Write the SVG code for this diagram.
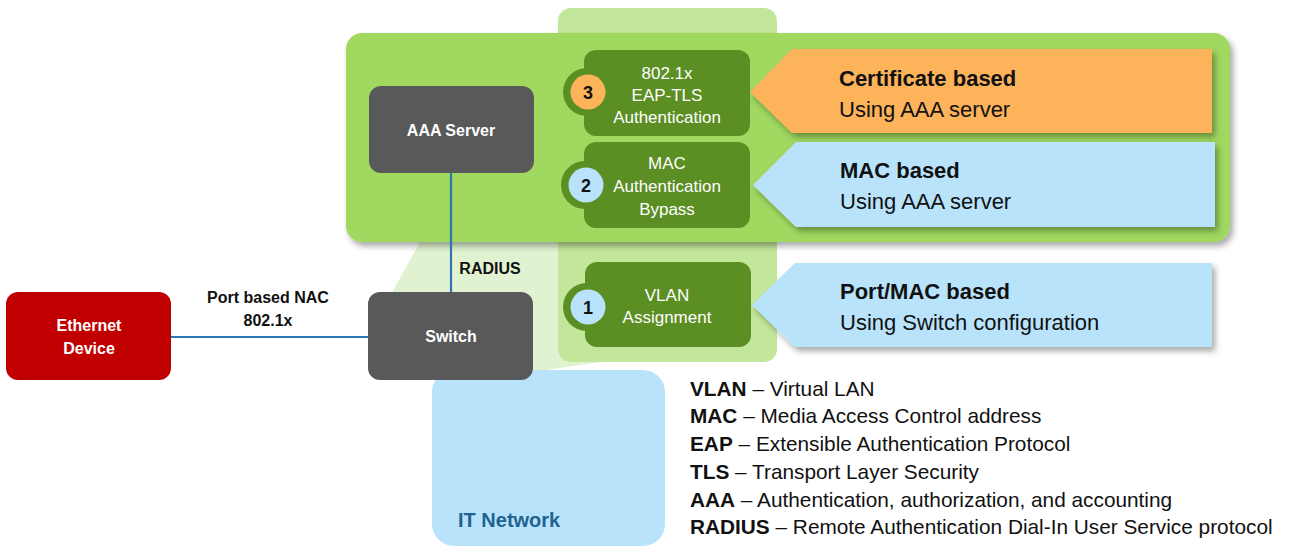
<svg xmlns="http://www.w3.org/2000/svg" width="1289" height="546" viewBox="0 0 1289 546">
<defs>
<filter id="sh" x="-10%" y="-10%" width="125%" height="130%">
<feDropShadow dx="3" dy="4" stdDeviation="3" flood-color="#000" flood-opacity="0.35"/>
</filter>
<style>
text{font-family:"Liberation Sans",Arial,sans-serif}
.dark{fill:#595959}
.dg{fill:#5b8e23}
.wb{fill:#fff;font-weight:bold;font-size:16px;text-anchor:middle}
.wr{fill:#fff;font-size:17px;text-anchor:middle}
.lbl{fill:#111;font-weight:bold;font-size:16px;text-anchor:middle}
.num{fill:#111;font-weight:bold;font-size:18px;text-anchor:middle}
.ct{fill:#111;font-size:22px}
.ctb{fill:#111;font-size:22px;font-weight:bold}
.lg{fill:#111;font-size:20.8px}
.conn{stroke:#2e75b6;stroke-width:2.2;fill:none}
</style>
</defs>
<rect width="1289" height="546" fill="#fff"/>
<g id="backdrop">
<path d="M420,242 L776,242 L776,352 L600,362 L520,374 L445,374 L385,305 Z" fill="#e1f2d0"/>
<rect x="558" y="8" width="219" height="354" rx="13" fill="#c2e69a"/>
<rect x="346" y="33" width="884" height="209" rx="16" fill="#a0d860" filter="url(#sh)"/>
</g>
<g id="it-network">
<rect x="432" y="370" width="233" height="176" rx="22" fill="#b8e3fb"/>
<text x="458" y="527" font-size="20" font-weight="bold" fill="#1f6391">IT Network</text>
</g>
<g id="connectors">
<line class="conn" x1="451" y1="173" x2="451" y2="292"/>
<line class="conn" x1="171" y1="337" x2="368" y2="337"/>
<text class="lbl" x="490" y="274">RADIUS</text>
<text class="lbl" x="268" y="303">Port based NAC</text>
<text class="lbl" x="268" y="326">802.1x</text>
</g>
<g id="aaa-server">
<rect class="dark" x="369" y="86" width="165" height="87" rx="12"/>
<text class="wb" x="451" y="136">AAA Server</text>
</g>
<g id="switch">
<rect class="dark" x="368" y="292" width="165" height="88" rx="12"/>
<text class="wb" x="451" y="342">Switch</text>
</g>
<g id="ethernet-device">
<rect x="6" y="292" width="165" height="88" rx="12" fill="#c00000"/>
<text class="wb" x="89" y="331">Ethernet</text>
<text class="wb" x="89" y="354">Device</text>
</g>
<g id="step3">
<rect class="dg" x="584" y="50" width="166" height="86" rx="12"/>
<circle class="dg" cx="587" cy="92" r="24"/>
<circle cx="588" cy="92" r="17.5" fill="#fdb35a"/>
<text class="num" x="588" y="98.5">3</text>
<text class="wr" x="667" y="79">802.1x</text>
<text class="wr" x="667" y="101">EAP-TLS</text>
<text class="wr" x="667" y="123">Authentication</text>
</g>
<g id="step2">
<rect class="dg" x="584" y="142" width="166" height="86" rx="12"/>
<circle class="dg" cx="585" cy="185" r="24"/>
<circle cx="586" cy="185" r="17.5" fill="#b8e3fb"/>
<text class="num" x="586" y="191.5">2</text>
<text class="wr" x="667" y="169">MAC</text>
<text class="wr" x="667" y="192">Authentication</text>
<text class="wr" x="667" y="215">Bypass</text>
</g>
<g id="step1">
<rect class="dg" x="585" y="262" width="166" height="85" rx="12"/>
<circle class="dg" cx="587" cy="307" r="24"/>
<circle cx="588" cy="307" r="17.5" fill="#b8e3fb"/>
<text class="num" x="588" y="313.5">1</text>
<text class="wr" x="667" y="301">VLAN</text>
<text class="wr" x="667" y="323">Assignment</text>
</g>
<g id="callout-certificate">
<path d="M750,92 L792,49 L1212,49 L1212,133 L792,133 Z" fill="#fdb35a" filter="url(#sh)"/>
<text class="ctb" x="839" y="86">Certificate based</text>
<text class="ct" x="839" y="117">Using AAA server</text>
</g>
<g id="callout-mac">
<path d="M753,185 L796,142 L1215,142 L1215,227 L796,227 Z" fill="#b8e3fb" filter="url(#sh)"/>
<text class="ctb" x="840" y="178">MAC based</text>
<text class="ct" x="840" y="209">Using AAA server</text>
</g>
<g id="callout-port">
<path d="M752,305 L795,263 L1212,263 L1212,347 L795,347 Z" fill="#b8e3fb" filter="url(#sh)"/>
<text class="ctb" x="840" y="299">Port/MAC based</text>
<text class="ct" x="840" y="330">Using Switch configuration</text>
</g>
<g id="legend">
<text class="lg" x="690" y="396"><tspan font-weight="bold">VLAN</tspan> – Virtual LAN</text>
<text class="lg" x="690" y="423"><tspan font-weight="bold">MAC</tspan> – Media Access Control address</text>
<text class="lg" x="690" y="451"><tspan font-weight="bold">EAP</tspan> – Extensible Authentication Protocol</text>
<text class="lg" x="690" y="479"><tspan font-weight="bold">TLS</tspan> – Transport Layer Security</text>
<text class="lg" x="690" y="507"><tspan font-weight="bold">AAA</tspan> – Authentication, authorization, and accounting</text>
<text class="lg" x="690" y="534"><tspan font-weight="bold">RADIUS</tspan> – Remote Authentication Dial-In User Service protocol</text>
</g>
</svg>
